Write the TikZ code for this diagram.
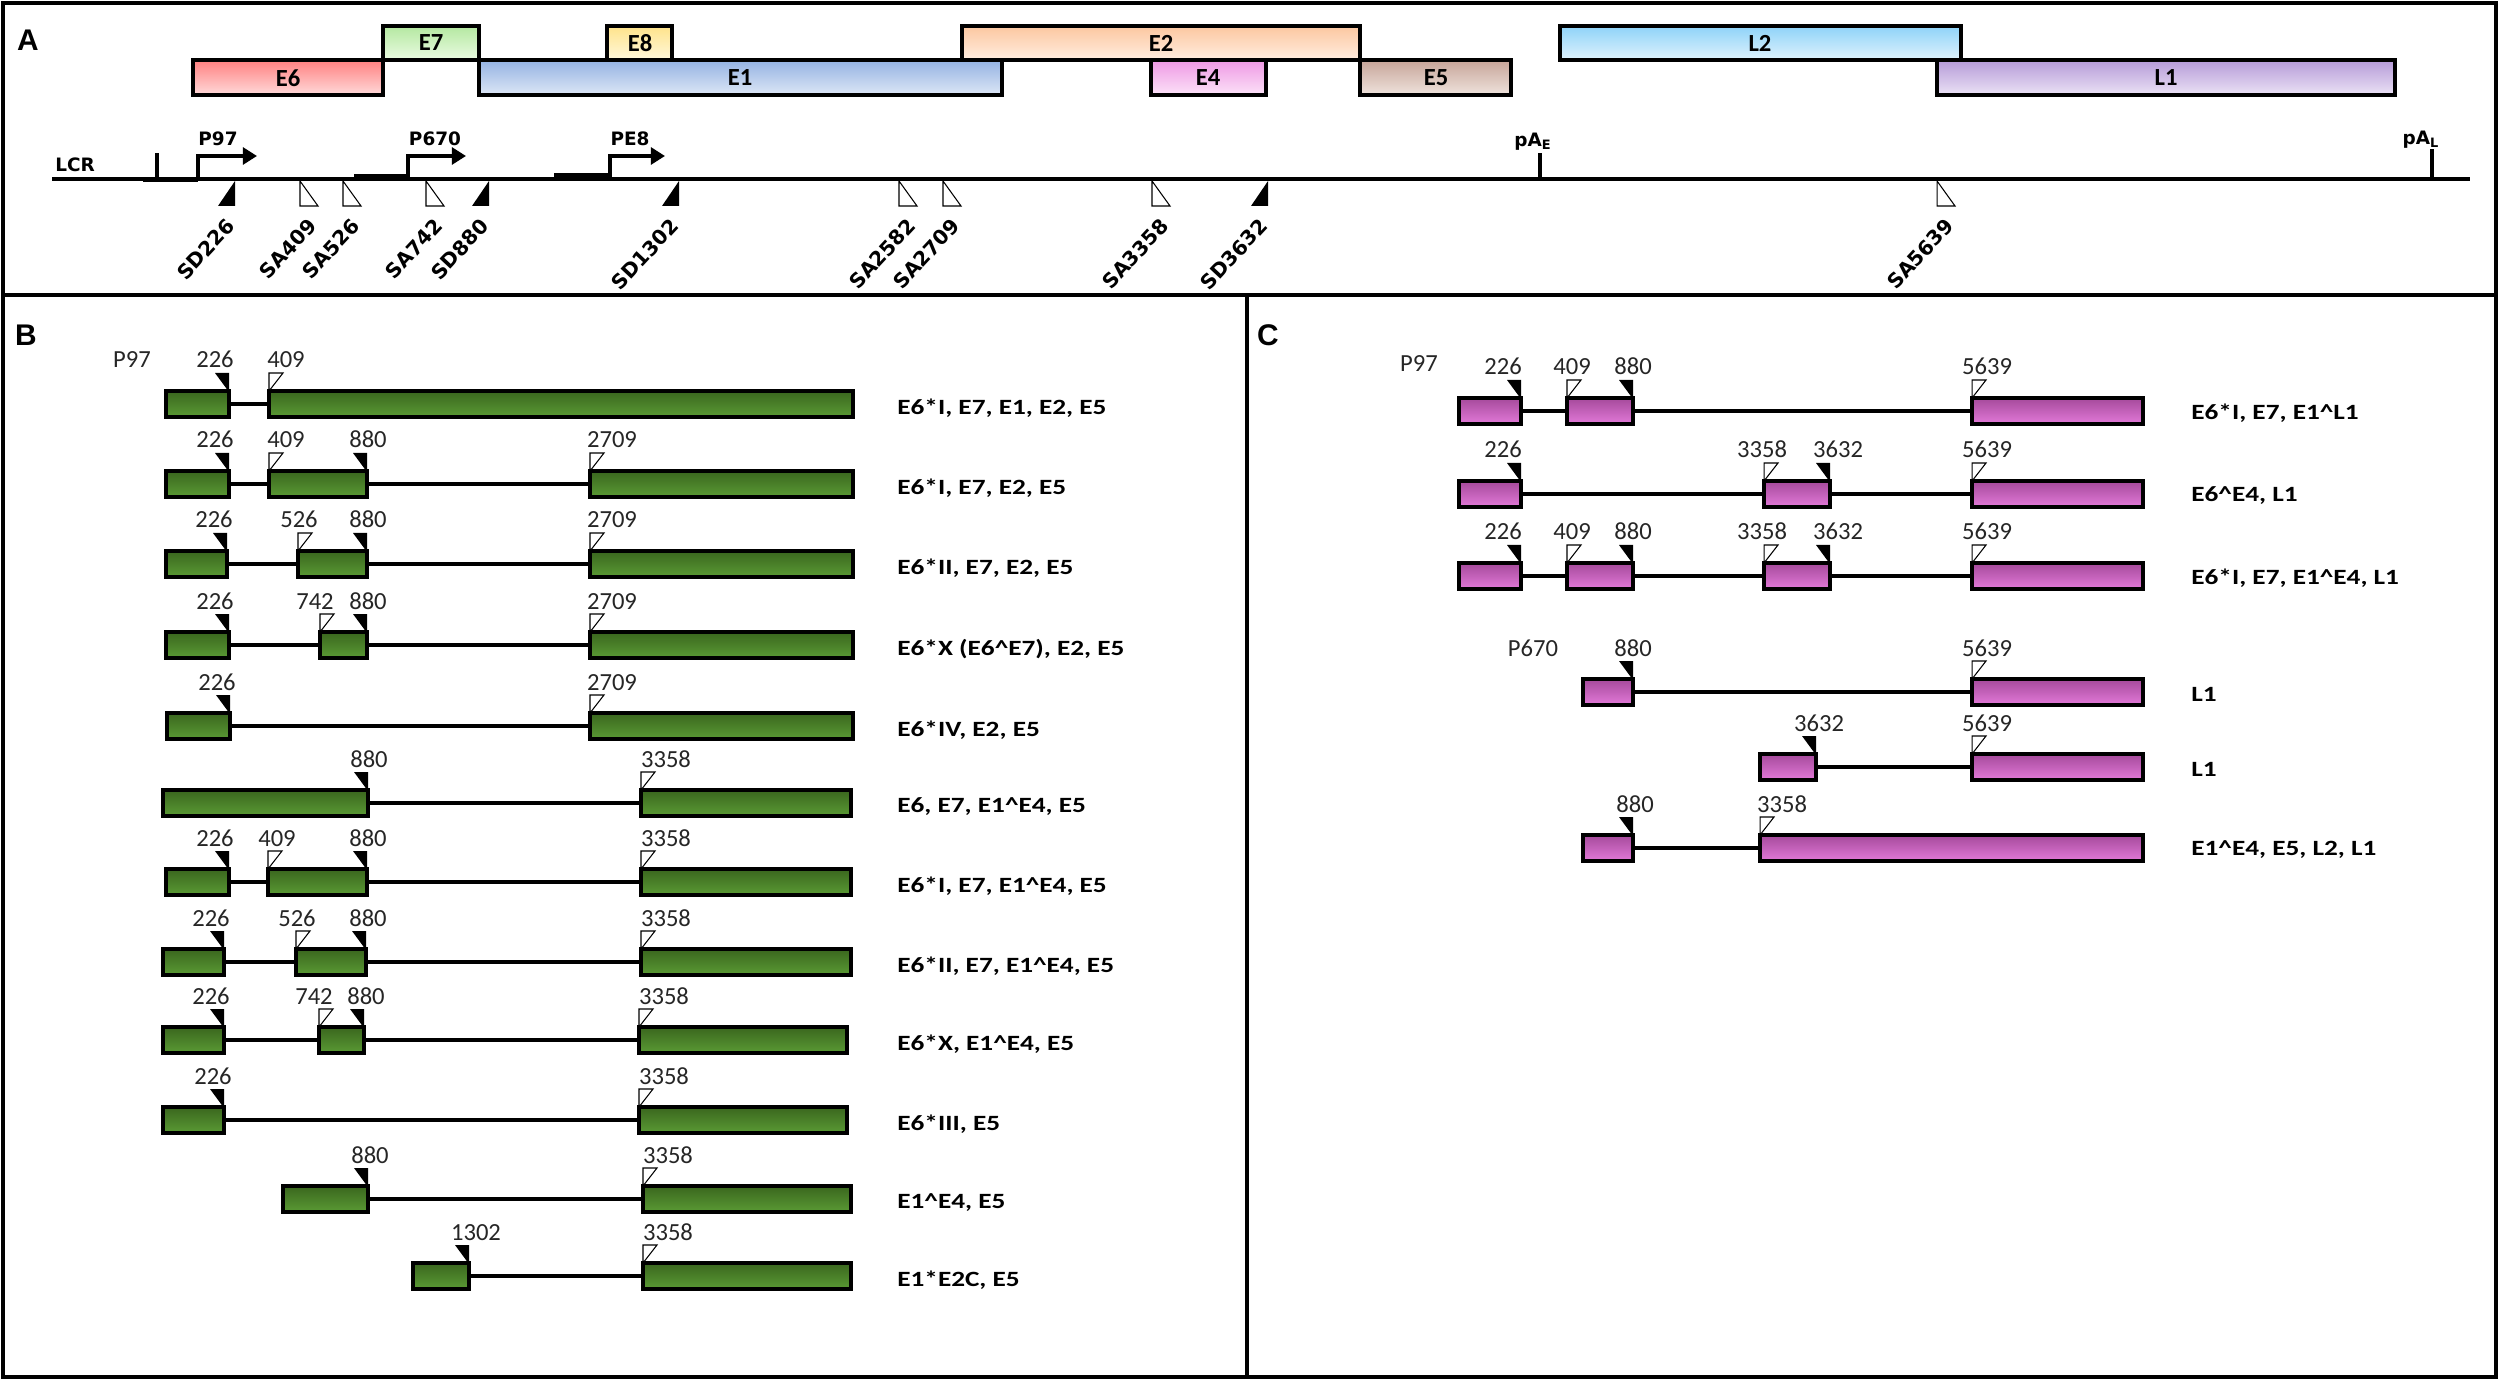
\documentclass[tikz,border=0pt]{standalone}
\usepackage{fontspec}
\setmainfont{Carlito}
\newfontfamily\dvfont{DejaVu Sans}
\newfontfamily\panelfont{Liberation Sans}
\newfontfamily\lblfont[FakeStretch=1.25]{Carlito}
\usetikzlibrary{arrows.meta}

\definecolor{gtop}{HTML}{3A661E}
\definecolor{gbot}{HTML}{5A9A34}
\definecolor{mtop}{HTML}{A54A9B}
\definecolor{mbot}{HTML}{E279D8}
\definecolor{e6top}{HTML}{FF8080}
\definecolor{e6bot}{HTML}{FFDADA}
\definecolor{e7top}{HTML}{B4E8A0}
\definecolor{e7bot}{HTML}{EAFBE2}
\definecolor{e8top}{HTML}{FFE38A}
\definecolor{e8bot}{HTML}{FFF8DC}
\definecolor{e1top}{HTML}{94B2E2}
\definecolor{e1bot}{HTML}{DDE7F6}
\definecolor{e2top}{HTML}{FCC7A0}
\definecolor{e2bot}{HTML}{FFEDDF}
\definecolor{e4top}{HTML}{EE98E4}
\definecolor{e4bot}{HTML}{FCE2F8}
\definecolor{e5top}{HTML}{C6A498}
\definecolor{e5bot}{HTML}{EFE3DD}
\definecolor{l2top}{HTML}{8ED2F8}
\definecolor{l2bot}{HTML}{DFF3FD}
\definecolor{l1top}{HTML}{B59AD8}
\definecolor{l1bot}{HTML}{EBE2F5}

\tikzset{
  frame/.style={line width=2.3pt},
  orf/.style={draw, line width=2.3pt},
  orflbl/.style={font={\bfseries\fontsize{14}{16}\selectfont}, inner sep=0pt},
  panellbl/.style={font={\panelfont\bfseries\fontsize{17}{19}\selectfont}, inner sep=0pt},
  genome/.style={line width=2.4pt},
  prom/.style={line width=2.2pt, -{Triangle[length=8pt,width=9.5pt]}},
  promlbl/.style={font={\dvfont\bfseries\fontsize{10.5}{12}\selectfont}, inner sep=0pt},
  sitelbl/.style={font={\dvfont\bfseries\fontsize{11.5}{13}\selectfont}, rotate=47, anchor=east, inner sep=0pt},
  greenexon/.style={draw, line width=2.3pt, top color=gtop, bottom color=gbot},
  pinkexon/.style={draw, line width=2.3pt, top color=mtop, bottom color=mbot},
  intron/.style={line width=2pt},
  numlbl/.style={font={\fontsize{14}{16}\selectfont}, text=black!85, inner sep=0pt, anchor=base},
  rowlbl/.style={font={\lblfont\bfseries\fontsize{12.4}{14}\selectfont}, anchor=west, inner sep=0pt}
}

\newcommand{\jx}{\textasciicircum}
\newcommand{\sdsite}[3]{\fill (#1,181) -- (#1,206) -- (#1-17,206) -- cycle;
  \node[sitelbl] (#3) at (#1-4,222) {#2};}
\newcommand{\sasite}[3]{\filldraw[fill=white, line width=0.6pt] (#1,181) -- (#1,206) -- (#1+18,206) -- cycle;
  \node[sitelbl] (#3) at (#1+13,222) {#2};}
\newcommand{\sdmark}[5]{\fill (#1-14,#2-31) -- (#1,#2-31) -- (#1,#2-12) -- cycle;
  \node[numlbl] (#4) at ({#1+#5},{#2-36}) {#3};}
\newcommand{\samark}[5]{\filldraw[fill=white, line width=0.6pt] (#1,#2-31) -- (#1+14,#2-31) -- (#1,#2-13) -- cycle;
  \node[numlbl] (#4) at ({#1+#5},{#2-36}) {#3};}
\newcommand{\gex}[3]{\draw[greenexon] (#1,#3-13) rectangle (#2,#3+13);}
\newcommand{\pex}[3]{\draw[pinkexon] (#1,#3-13) rectangle (#2,#3+13);}

\begin{document}
\begin{tikzpicture}[x=0.02cm, y=-0.02cm]
\useasboundingbox (0,0) rectangle (2500,1381);

\draw[frame] (3,3) rectangle (2496,1377);
\draw[frame] (3,295) -- (2496,295);
\draw[frame] (1247,295) -- (1247,1377);
\node[panellbl] (labA) at (28,40) {A};
\node[panellbl] (labB) at (26,335) {B};
\node[panellbl] (labC) at (1268,335) {C};

\draw[orf, top color=e7top, bottom color=e7bot] (383,26) rectangle (479,60);
\draw[orf, top color=e8top, bottom color=e8bot] (607,26) rectangle (672,60);
\draw[orf, top color=e2top, bottom color=e2bot] (962,26) rectangle (1360,60);
\draw[orf, top color=l2top, bottom color=l2bot] (1560,26) rectangle (1961,60);
\draw[orf, top color=e6top, bottom color=e6bot] (193,60) rectangle (383,95);
\draw[orf, top color=e1top, bottom color=e1bot] (479,60) rectangle (1002,95);
\draw[orf, top color=e4top, bottom color=e4bot] (1151,60) rectangle (1266,95);
\draw[orf, top color=e5top, bottom color=e5bot] (1360,60) rectangle (1511,95);
\draw[orf, top color=l1top, bottom color=l1bot] (1937,60) rectangle (2395,95);
\node[orflbl] (e7) at (431,43) {E7};
\node[orflbl] (e8) at (640,43) {E8};
\node[orflbl] (e2) at (1161,43) {E2};
\node[orflbl] (l2) at (1760,43) {L2};
\node[orflbl] (e6) at (288,78) {E6};
\node[orflbl] (e1) at (740,78) {E1};
\node[orflbl] (e4) at (1208,78) {E4};
\node[orflbl] (e5) at (1436,78) {E5};
\node[orflbl] (l1) at (2166,78) {L1};

\draw[genome] (52,179) -- (2470,179);
\fill (143,178) rectangle (198,182.5);
\fill (354,174) rectangle (408,181);
\fill (554,173) rectangle (610,181);
\draw[genome] (157,179) -- (157,153);
\node[promlbl] (lcr) at (75,165) {LCR};
\draw[prom] (198,179) |- (257,156);
\node[promlbl] (p97) at (218,139) {P97};
\draw[prom] (408,179) |- (466,156);
\node[promlbl] (p670) at (435,139) {P670};
\draw[prom] (610,179) |- (665,156);
\node[promlbl] (pe8) at (630,139) {PE8};
\draw[genome] (1540,179) -- (1540,153);
\node[promlbl] (pae) at (1533,142) {pA\textsubscript{E}};
\draw[genome] (2432,179) -- (2432,149);
\node[promlbl] (pal) at (2421,140) {pA\textsubscript{L}};

\sdsite{235}{SD226}{sd226}
\sasite{300}{SA409}{sa409}
\sasite{343}{SA526}{sa526}
\sasite{426}{SA742}{sa742}
\sdsite{489}{SD880}{sd880}
\sdsite{679}{SD1302}{sd1302}
\sasite{899}{SA2582}{sa2582}
\sasite{943}{SA2709}{sa2709}
\sasite{1152}{SA3358}{sa3358}
\sdsite{1268}{SD3632}{sd3632}
\sasite{1937}{SA5639}{sa5639}

\node[numlbl] (bp97) at (132,368) {P97};
\draw[intron] (166,404) -- (853,404);
\gex{166}{229}{404} \gex{269}{853}{404}
\sdmark{229}{404}{226}{b1a}{-14} \samark{269}{404}{409}{b1b}{17}
\node[rowlbl] (b1) at (897,408) {E6*I, E7, E1, E2, E5};

\draw[intron] (166,484) -- (853,484);
\gex{166}{229}{484} \gex{269}{367}{484} \gex{590}{853}{484}
\sdmark{229}{484}{226}{b2a}{-14} \samark{269}{484}{409}{b2b}{17} \sdmark{367}{484}{880}{b2c}{1} \samark{590}{484}{2709}{b2d}{22}
\node[rowlbl] (b2) at (897,488) {E6*I, E7, E2, E5};

\draw[intron] (166,564) -- (853,564);
\gex{166}{227}{564} \gex{298}{367}{564} \gex{590}{853}{564}
\sdmark{227}{564}{226}{b3a}{-13} \samark{298}{564}{526}{b3b}{1} \sdmark{367}{564}{880}{b3c}{1} \samark{590}{564}{2709}{b3d}{22}
\node[rowlbl] (b3) at (897,568) {E6*II, E7, E2, E5};

\draw[intron] (166,645) -- (853,645);
\gex{166}{229}{645} \gex{320}{367}{645} \gex{590}{853}{645}
\sdmark{229}{645}{226}{b4a}{-14} \samark{320}{645}{742}{b4b}{-5} \sdmark{367}{645}{880}{b4c}{1} \samark{590}{645}{2709}{b4d}{22}
\node[rowlbl] (b4) at (897,649) {E6*X (E6\jx{}E7), E2, E5};

\draw[intron] (167,726) -- (853,726);
\gex{167}{230}{726} \gex{590}{853}{726}
\sdmark{230}{726}{226}{b5a}{-13} \samark{590}{726}{2709}{b5b}{22}
\node[rowlbl] (b5) at (897,730) {E6*IV, E2, E5};

\draw[intron] (163,803) -- (851,803);
\gex{163}{368}{803} \gex{641}{851}{803}
\sdmark{368}{803}{880}{b6a}{1} \samark{641}{803}{3358}{b6b}{25}
\node[rowlbl] (b6) at (897,807) {E6, E7, E1\jx{}E4, E5};

\draw[intron] (166,882) -- (851,882);
\gex{166}{229}{882} \gex{268}{367}{882} \gex{641}{851}{882}
\sdmark{229}{882}{226}{b7a}{-14} \samark{268}{882}{409}{b7b}{9} \sdmark{367}{882}{880}{b7c}{1} \samark{641}{882}{3358}{b7d}{25}
\node[rowlbl] (b7) at (897,886) {E6*I, E7, E1\jx{}E4, E5};

\draw[intron] (163,962) -- (851,962);
\gex{163}{224}{962} \gex{296}{366}{962} \gex{641}{851}{962}
\sdmark{224}{962}{226}{b8a}{-13} \samark{296}{962}{526}{b8b}{1} \sdmark{366}{962}{880}{b8c}{2} \samark{641}{962}{3358}{b8d}{25}
\node[rowlbl] (b8) at (897,966) {E6*II, E7, E1\jx{}E4, E5};

\draw[intron] (163,1040) -- (847,1040);
\gex{163}{224}{1040} \gex{319}{364}{1040} \gex{639}{847}{1040}
\sdmark{224}{1040}{226}{b9a}{-13} \samark{319}{1040}{742}{b9b}{-5} \sdmark{364}{1040}{880}{b9c}{2} \samark{639}{1040}{3358}{b9d}{25}
\node[rowlbl] (b9) at (897,1044) {E6*X, E1\jx{}E4, E5};

\draw[intron] (163,1120) -- (847,1120);
\gex{163}{224}{1120} \gex{639}{847}{1120}
\sdmark{224}{1120}{226}{b10a}{-11} \samark{639}{1120}{3358}{b10b}{25}
\node[rowlbl] (b10) at (897,1124) {E6*III, E5};

\draw[intron] (283,1199) -- (851,1199);
\gex{283}{368}{1199} \gex{643}{851}{1199}
\sdmark{368}{1199}{880}{b11a}{2} \samark{643}{1199}{3358}{b11b}{25}
\node[rowlbl] (b11) at (897,1203) {E1\jx{}E4, E5};

\draw[intron] (413,1276) -- (851,1276);
\gex{413}{469}{1276} \gex{643}{851}{1276}
\sdmark{469}{1276}{1302}{b12a}{7} \samark{643}{1276}{3358}{b12b}{25}
\node[rowlbl] (b12) at (897,1280) {E1*E2C, E5};

\node[numlbl] (cp97) at (1419,372) {P97};
\draw[intron] (1459,411) -- (2143,411);
\pex{1459}{1521}{411} \pex{1567}{1633}{411} \pex{1972}{2143}{411}
\sdmark{1521}{411}{226}{c1a}{-18} \samark{1567}{411}{409}{c1b}{5} \sdmark{1633}{411}{880}{c1c}{0} \samark{1972}{411}{5639}{c1d}{15}
\node[rowlbl] (c1) at (2191,413) {E6*I, E7, E1\jx{}L1};

\draw[intron] (1459,494) -- (2143,494);
\pex{1459}{1521}{494} \pex{1764}{1830}{494} \pex{1972}{2143}{494}
\sdmark{1521}{494}{226}{c2a}{-18} \samark{1764}{494}{3358}{c2b}{-2} \sdmark{1830}{494}{3632}{c2c}{8} \samark{1972}{494}{5639}{c2d}{15}
\node[rowlbl] (c2) at (2191,496) {E6\jx{}E4, L1};

\draw[intron] (1459,576) -- (2143,576);
\pex{1459}{1521}{576} \pex{1567}{1633}{576} \pex{1764}{1830}{576} \pex{1972}{2143}{576}
\sdmark{1521}{576}{226}{c3a}{-18} \samark{1567}{576}{409}{c3b}{5} \sdmark{1633}{576}{880}{c3c}{0}
\samark{1764}{576}{3358}{c3d}{-2} \sdmark{1830}{576}{3632}{c3e}{8} \samark{1972}{576}{5639}{c3f}{15}
\node[rowlbl] (c3) at (2191,578) {E6*I, E7, E1\jx{}E4, L1};

\node[numlbl] (cp670) at (1533,656) {P670};
\draw[intron] (1583,692) -- (2143,692);
\pex{1583}{1633}{692} \pex{1972}{2143}{692}
\sdmark{1633}{692}{880}{c4a}{0} \samark{1972}{692}{5639}{c4b}{15}
\node[rowlbl] (c4) at (2191,694) {L1};

\draw[intron] (1760,767) -- (2143,767);
\pex{1760}{1816}{767} \pex{1972}{2143}{767}
\sdmark{1816}{767}{3632}{c5a}{3} \samark{1972}{767}{5639}{c5b}{15}
\node[rowlbl] (c5) at (2191,769) {L1};

\draw[intron] (1583,848) -- (2143,848);
\pex{1583}{1633}{848} \pex{1760}{2143}{848}
\sdmark{1633}{848}{880}{c6a}{2} \samark{1760}{848}{3358}{c6b}{22}
\node[rowlbl] (c6) at (2191,850) {E1\jx{}E4, E5, L2, L1};
\end{tikzpicture}
\end{document}
